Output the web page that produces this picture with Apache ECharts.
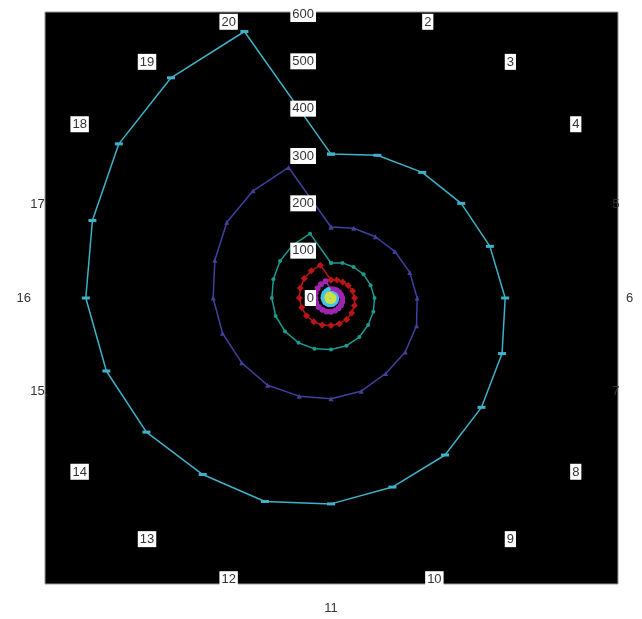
<!DOCTYPE html>
<html lang="en">
<head>
    <meta charset="utf-8" />
    <title>polar spiral</title>
    <style>
        html, body { margin: 0; padding: 0; background: #fff; }
        #main { width: 642px; height: 619px; }
    </style>
</head>
<body>
<div id="main"></div>

<script src="https://cdn.jsdelivr.net/npm/echarts@6/dist/echarts.min.js"></script>
<script type="text/javascript">
    // angle categories, 1 at the top, going clockwise
    var angleLabels = ['1', '2', '3', '4', '5', '6', '7', '8', '9', '10',
        '11', '12', '13', '14', '15', '16', '17', '18', '19', '20'];
    // labels that sit inside the black square get a white box
    var boxedLabels = ['2', '3', '4', '8', '9', '10', '12', '13', '14', '18', '19', '20'];
    // plain labels on the left / right / bottom edge
    var leftLabels = ['15', '16', '17'];
    var rightLabels = ['5', '6', '7'];
    var bottomLabels = ['11'];
    // '1' falls off the top edge of the picture
    var hiddenLabels = ['1'];

    // radius values, one per angle category
    var spiralCyan = [304, 317, 328, 340, 353, 368, 380, 393, 410, 420, 435, 452, 461, 482, 499, 518, 530, 554, 575, 592];
    var spiralNavy = [150, 155, 160, 167, 175, 182, 190, 194, 197, 207, 213, 218, 228, 233, 241, 249, 258, 272, 280, 290];
    var spiralTeal = [74, 78, 81, 85, 88, 92, 94, 97, 102, 106, 109, 113, 117, 120, 123, 125, 128, 133, 138, 143];
    var spiralRed = [38, 40, 42, 45, 48, 50, 52, 54, 56, 57, 58, 60, 62, 64, 65, 67, 68, 70, 71, 73];
    var spiralMagenta = [18, 19, 20, 21, 22, 24, 25, 26, 27, 28, 29, 30, 31, 32, 33, 33, 34, 35, 36, 37];
    var spiralLightBlue = [9, 10, 10, 11, 11, 12, 12, 13, 13, 14, 14, 15, 15, 16, 16, 17, 17, 18, 18, 19];
    var spiralYellow = [4, 5, 5, 5, 6, 6, 6, 6, 7, 7, 7, 7, 8, 8, 8, 8, 9, 9, 9, 9];

    var radiusTicks = [0, 100, 200, 300, 400, 500, 600];

    // the label ring in the picture is a bit wider than tall:
    // push the boxed labels sideways by an empty spacer token (px)
    var labelNudge = {
        '2': 4, '3': 8, '4': 11, '8': 11, '9': 8, '10': 7,
        '12': 6, '13': 9, '14': 14, '18': 14, '19': 9, '20': 6
    };
    // these also sit a few px lower
    var dropLabels = ['9', '10', '12', '13'];

    // pair each radius with its slot index; slot 20 is the same angle as slot 0,
    // so the last point closes the loop back to the first one
    function toPolar(values) {
        var pts = [];
        for (var i = 0; i < values.length; i++) {
            pts.push([values[i], i]);
        }
        pts.push([values[0], angleLabels.length]);
        return pts;
    }

    function spiral(name, values, color, symbol, size) {
        return {
            name: name,
            type: 'line',
            coordinateSystem: 'polar',
            data: toPolar(values),
            symbol: symbol,
            symbolSize: size,
            showSymbol: true,
            clip: false,
            animation: false,
            lineStyle: { color: color, width: 1.5 },
            itemStyle: { color: color }
        };
    }

    var txt = { color: '#333', fontSize: 13, fontFamily: 'Liberation Sans' };

    var richStyles = {
        w: Object.assign({ backgroundColor: '#fff', padding: [2, 2, 1, 2], verticalAlign: 'bottom' }, txt),
        l: Object.assign({ padding: [0, 18, 0, 0] }, txt),
        r: Object.assign({ padding: [0, 0, 0, 13] }, txt),
        b: Object.assign({ padding: [22, 0, 0, 0] }, txt)
    };
    // spacer tokens, g<width> and g<width>d (taller, to drop the label)
    for (var key in labelNudge) {
        var n = labelNudge[key];
        richStyles['g' + n] = { width: n, height: 1 };
        richStyles['g' + n + 'd'] = { width: n, height: 21 };
    }

    function angleLabel(v) {
        var lab = angleLabels[v];
        if (lab === undefined || hiddenLabels.indexOf(lab) >= 0) {
            return '';
        }
        if (boxedLabels.indexOf(lab) >= 0) {
            var gap = '{g' + labelNudge[lab] + (dropLabels.indexOf(lab) >= 0 ? 'd' : '') + '|}';
            // right half: spacer on the inner (left) side, left half: on the right
            return v < angleLabels.length / 2 ? gap + '{w|' + lab + '}' : '{w|' + lab + '}' + gap;
        }
        if (leftLabels.indexOf(lab) >= 0) return '{l|' + lab + '}';
        if (rightLabels.indexOf(lab) >= 0) return '{r|' + lab + '}';
        if (bottomLabels.indexOf(lab) >= 0) return '{b|' + lab + '}';
        return lab;
    }

    var myChart = echarts.init(document.getElementById('main'));

    var option = {
        backgroundColor: '#fff',
        animation: false,
        graphic: [
            {
                type: 'rect',
                z: -10,
                shape: { x: 45, y: 12, width: 573, height: 572 },
                style: { fill: '#000', stroke: '#999', lineWidth: 1 }
            }
        ],
        polar: {
            center: [331, 298],
            radius: 284
        },
        angleAxis: {
            type: 'value',
            min: 0,
            max: angleLabels.length,
            interval: 1,
            startAngle: 90,
            clockwise: true,
            z: 10,
            axisLine: { show: false },
            axisTick: { show: false },
            splitLine: { show: false },
            axisLabel: {
                margin: -2,
                formatter: angleLabel,
                rich: richStyles
            }
        },
        radiusAxis: {
            min: radiusTicks[0],
            max: radiusTicks[radiusTicks.length - 1],
            interval: 100,
            z: 10,
            axisLine: { show: false },
            axisTick: { show: false },
            splitLine: { show: false },
            axisLabel: {
                margin: 15,
                color: '#333',
                fontSize: 13,
                fontFamily: 'Liberation Sans',
                backgroundColor: '#fff',
                padding: [2, 2, 1, 2]
            }
        },
        series: [
            spiral('cyan', spiralCyan, '#3fb2c9', 'rect', [8, 3]),
            spiral('navy', spiralNavy, '#41419c', 'triangle', 5),
            spiral('teal', spiralTeal, '#1c9b91', 'circle', 4),
            spiral('red', spiralRed, '#b91616', 'diamond', 7),
            spiral('magenta', spiralMagenta, '#a024b0', 'circle', 6),
            spiral('lightblue', spiralLightBlue, '#45c3e6', 'circle', 5),
            spiral('yellow', spiralYellow, '#cde048', 'circle', 5)
        ]
    };

    myChart.setOption(option);
</script>
</body>
</html>
